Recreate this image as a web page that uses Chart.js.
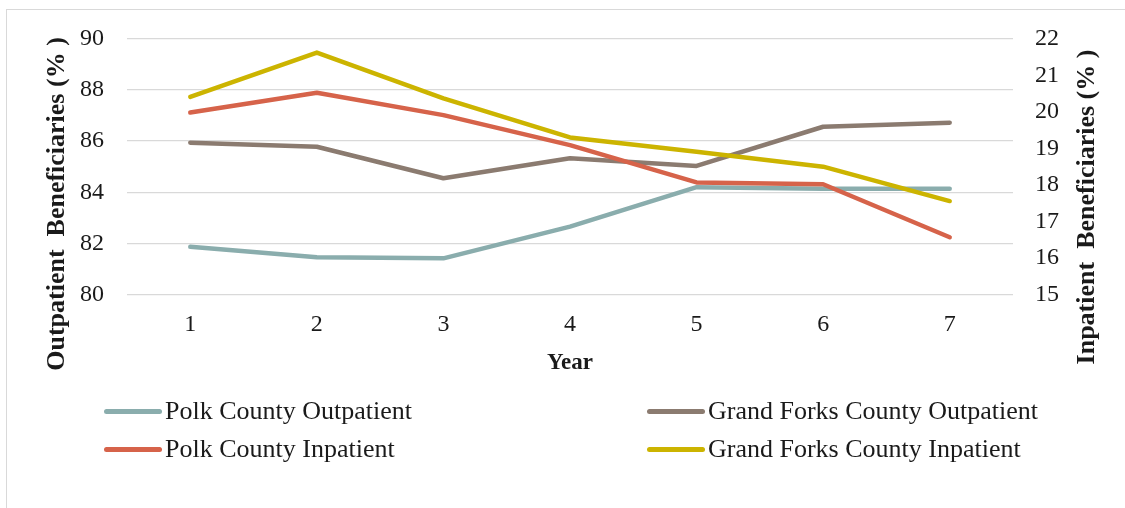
<!DOCTYPE html>
<html>
<head>
<meta charset="utf-8">
<script src="https://cdn.jsdelivr.net/npm/chart.js@4"></script>
<style>
  body { margin: 0; background: #fff; }
  #wrap { position: relative; width: 1125px; height: 508px; overflow: hidden; }
  #frame { position: absolute; left: 6px; top: 9px; width: 1140px; height: 520px; border: 1.5px solid #d9d9d9; box-sizing: border-box; }
  canvas { position: absolute; left: 0; top: 0; }
  .leg { position: absolute; display: flex; align-items: center; font-family: "Liberation Serif", "Times New Roman", serif; font-size: 26px; color: #1a1a1a; white-space: nowrap; height: 30px; }
  .leg span.ln { display: inline-block; width: 58px; height: 5px; border-radius: 3px; margin-right: 3px; }
</style>
</head>
<body>
<div id="wrap">
  <div id="frame"></div>
  <canvas id="chart" width="1125" height="508"></canvas>
</div>
<script>
// 年（カテゴリ）
const years = ['1', '2', '3', '4', '5', '6', '7'];

// 系列名
const seriesNames = ['Polk County Outpatient', 'Grand Forks County Outpatient', 'Polk County Inpatient', 'Grand Forks County Inpatient'];

// 外来（左軸, %）
const polkOutpatient = [81.87, 81.46, 81.42, 82.66, 84.20, 84.14, 84.14];
const grandForksOutpatient = [85.94, 85.78, 84.55, 85.33, 85.03, 86.56, 86.72];

// 入院（右軸, %）
const polkInpatient = [19.98, 20.52, 19.91, 19.09, 18.07, 18.02, 16.57];
const grandForksInpatient = [20.41, 21.62, 20.37, 19.30, 18.91, 18.50, 17.56];

// 軸タイトル
const leftTitle = 'Outpatient  Beneficiaries (% )';
const rightTitle = 'Inpatient  Beneficiaries (% )';
const xTitle = 'Year';

const colors = ['#8aadad', '#8b7b70', '#d6634a', '#ccb400'];
const serif = '"Liberation Serif", "Times New Roman", serif';

// 縦書きの軸タイトルを描く（左右とも下から上へ）
const axisTitles = {
    id: 'axisTitles',
    afterDraw(chart) {
        const ctx = chart.ctx;
        ctx.save();
        ctx.fillStyle = '#1a1a1a';
        ctx.font = 'bold 26px ' + serif;
        ctx.textAlign = 'center';
        ctx.textBaseline = 'middle';
        [[leftTitle, 57, 204], [rightTitle, 1087, 207]].forEach(([t, x, y]) => {
            ctx.save();
            ctx.translate(x, y);
            ctx.rotate(-Math.PI / 2);
            ctx.fillText(t, 0, 0);
            ctx.restore();
        });
        ctx.restore();
    }
};

function makeSet(i, data, axis, order) {
    return {
        label: seriesNames[i],
        data: data,
        yAxisID: axis,
        borderColor: colors[i],
        backgroundColor: colors[i],
        borderWidth: 4.5,
        borderCapStyle: 'round',
        borderJoinStyle: 'round',
        pointRadius: 0,
        tension: 0,
        order: order
    };
}

const chart = new Chart(document.getElementById('chart'), {
    type: 'line',
    data: {
        labels: years,
        datasets: [
            makeSet(0, polkOutpatient, 'yL', 4),
            makeSet(1, grandForksOutpatient, 'yL', 3),
            makeSet(2, polkInpatient, 'yR', 2),
            makeSet(3, grandForksInpatient, 'yR', 1)
        ]
    },
    options: {
        responsive: false,
        animation: false,
        devicePixelRatio: 1,
        layout: { padding: { top: 38.7, bottom: 118.3, left: 0, right: 0 } },
        plugins: { legend: { display: false }, tooltip: { enabled: false } },
        scales: {
            x: {
                offset: true,
                grid: { display: false, drawTicks: false },
                border: { display: false },
                ticks: { color: '#1a1a1a', font: { family: serif, size: 24 }, padding: 16 },
                title: { display: true, text: xTitle, color: '#1a1a1a', font: { family: serif, size: 23, weight: 'bold' }, padding: { top: 0, bottom: 13 } },
                afterFit: s => { s.height = 95; }
            },
            yL: {
                position: 'left',
                min: 80, max: 90,
                ticks: { stepSize: 2, color: '#1a1a1a', font: { family: serif, size: 24 }, padding: 23 },
                grid: { color: '#d9d9d9', lineWidth: 1.3, drawTicks: false },
                border: { display: false },
                afterFit: s => { s.width = 127; }
            },
            yR: {
                position: 'right',
                min: 15, max: 22,
                ticks: { stepSize: 1, color: '#1a1a1a', font: { family: serif, size: 24 }, padding: 22 },
                grid: { display: false, drawTicks: false },
                border: { display: false },
                afterFit: s => { s.width = 112; }
            }
        }
    },
    plugins: [axisTitles]
});

// 凡例（2列）
const legendPos = [[104, 396], [647, 396], [104, 434], [647, 434]];
const wrap = document.getElementById('wrap');
chart.data.datasets.forEach((ds, i) => {
    const d = document.createElement('div');
    d.className = 'leg';
    d.style.left = legendPos[i][0] + 'px';
    d.style.top = legendPos[i][1] + 'px';
    const ln = document.createElement('span');
    ln.className = 'ln';
    ln.style.background = ds.borderColor;
    d.appendChild(ln);
    d.appendChild(document.createTextNode(ds.label));
    wrap.appendChild(d);
});
</script>
</body>
</html>
